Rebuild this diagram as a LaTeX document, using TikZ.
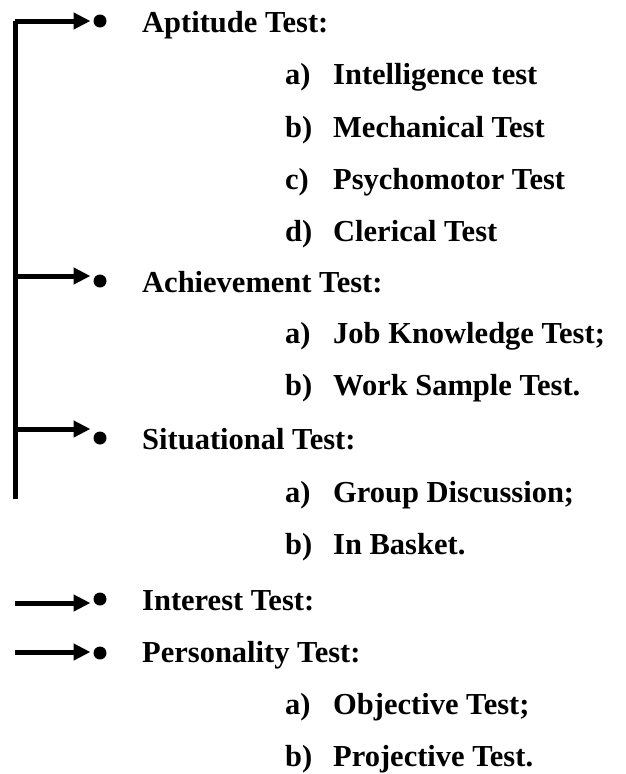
\documentclass[tikz,border=0pt]{standalone}
\usepackage{fontspec}
\setmainfont{Liberation Serif}
\usetikzlibrary{arrows.meta}
\tikzset{
  head/.style={anchor=base west, inner sep=0pt, font=\fontsize{30.5}{36}\selectfont\bfseries},
  lbl/.style={anchor=base west, inner sep=0pt, font=\fontsize{30.5}{36}\selectfont\bfseries},
  itm/.style={anchor=base west, inner sep=0pt, font=\fontsize{30.5}{36}\selectfont\bfseries},
  bullet/.style={circle, fill=black, inner sep=0pt, minimum size=13pt, outer sep=3pt},
  conn/.style={line width=5pt, -{Triangle[length=17pt,width=16pt]}},
  trunk/.style={line width=5pt, line join=miter}
}
\begin{document}
\begin{tikzpicture}[x=1pt,y=-1pt]
\useasboundingbox (0,0) rectangle (625,774);
% bullets
\node[bullet] (d1) at (100,21) {};
\node[bullet] (d2) at (100,281) {};
\node[bullet] (d3) at (100,438) {};
\node[bullet] (d4) at (100,599) {};
\node[bullet] (d5) at (100,653) {};
% headings
\node[head] (h1) at (142,32) {Aptitude Test:};
\node[head] (h2) at (142,292) {Achievement Test:};
\node[head] (h3) at (142,449) {Situational Test:};
\node[head] (h4) at (142,610) {Interest Test:};
\node[head] (h5) at (142,662) {Personality Test:};
% sub items
\node[lbl] (l1a) at (285,84) {a)};  \node[itm] (t1a) at (333,84) {Intelligence test};
\node[lbl] (l1b) at (285,137) {b)}; \node[itm] (t1b) at (333,137) {Mechanical Test};
\node[lbl] (l1c) at (285,189) {c)}; \node[itm] (t1c) at (333,189) {Psychomotor Test};
\node[lbl] (l1d) at (285,241) {d)}; \node[itm] (t1d) at (333,241) {Clerical Test};
\node[lbl] (l2a) at (285,343) {a)}; \node[itm] (t2a) at (333,343) {Job Knowledge Test;};
\node[lbl] (l2b) at (285,395) {b)}; \node[itm] (t2b) at (333,395) {Work Sample Test.};
\node[lbl] (l3a) at (285,502) {a)}; \node[itm] (t3a) at (333,502) {Group Discussion;};
\node[lbl] (l3b) at (285,554) {b)}; \node[itm] (t3b) at (333,554) {In Basket.};
\node[lbl] (l5a) at (285,714) {a)}; \node[itm] (t5a) at (333,714) {Objective Test;};
\node[lbl] (l5b) at (285,766) {b)}; \node[itm] (t5b) at (333,766) {Projective Test.};
% connectors
\coordinate (top) at (15,21);
\coordinate (bot) at (15,499);
\coordinate (j2) at (15,276);
\coordinate (j3) at (15,429);
\coordinate (s4) at (15,603);
\coordinate (s5) at (15,652);
\draw[trunk] (bot) -- (top);
\draw[conn] (top) -- (d1.west |- top);
\draw[conn] (j2) -- (d2.west |- j2);
\draw[conn] (j3) -- (d3.west |- j3);
\draw[conn] (s4) -- (d4.west |- s4);
\draw[conn] (s5) -- (d5.west |- s5);
\end{tikzpicture}
\end{document}
